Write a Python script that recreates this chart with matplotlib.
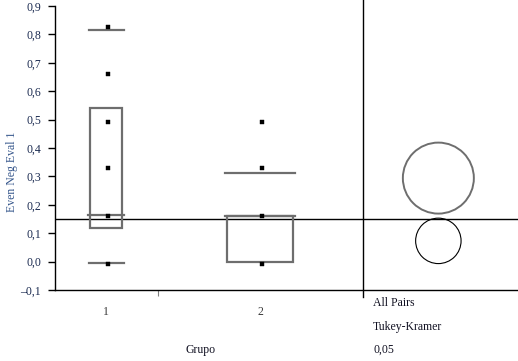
import matplotlib
matplotlib.use("Agg")
import matplotlib.pyplot as plt
from matplotlib.patches import Ellipse, Rectangle
import numpy as np

plt.rcParams['font.family'] = ['Liberation Serif', 'DejaVu Serif']

# ---- data ----
groups = ["1", "2"]
group_widths = [1.0, 2.0]          # JMP "X axis proportional" widths
g1_values = [0.827, 0.66, 0.49, 0.331, 0.159, -0.01]
g1_counts = [1, 1, 1, 2, 1, 1]
g2_values = [0.49, 0.33, 0.159, -0.01]
g2_counts = [1, 2, 1, 1]
# box stats: q1, median, q3, lower whisker, upper whisker
g1_box = dict(q1=0.118, med=0.164, q3=0.541, wlo=-0.005, whi=0.815)
g2_box = dict(q1=0.0, med=0.162, q3=0.162, wlo=None, whi=0.313)
grand_mean = 0.15
# comparison circles: centers and radii (y units)
circle_centers = [0.294, 0.073]
circle_radii = [0.125, 0.080]
circle_colors = ["#6e6e6e", "#000000"]
circle_widths = [1.4, 0.8]
yticks = [round(-0.1 + 0.1 * i, 1) for i in range(11)]
ylabel = "Even Neg Eval 1"
xlabel = "Grupo"
panel_text = ["All Pairs", "Tukey-Kramer", "0,05"]

W, H = 518, 361
fig = plt.figure(figsize=(W / 100, H / 100), dpi=100)
ax = fig.add_axes([55 / W, (H - 290) / H, (W - 55) / W, (290 - 6) / H])

bounds = np.concatenate([[0], np.cumsum(group_widths)])
centers = (bounds[:-1] + bounds[1:]) / 2
sep = bounds[-1]
xmax = sep + 1.517
ax.set_xlim(0, xmax)
ax.set_ylim(-0.1, 0.9)

box_col = "#6e6e6e"
boxes = [g1_box, g2_box]
values = [g1_values, g2_values]
counts = [g1_counts, g2_counts]
for i, (c, w) in enumerate(zip(centers, group_widths)):
    b = boxes[i]
    bw = 0.31 * w if i == 0 else 0.325 * w
    ww = 0.34 * w
    ax.add_patch(Rectangle((c - bw / 2, b["q1"]), bw, b["q3"] - b["q1"],
                           fill=False, ec=box_col, lw=1.6, zorder=3))
    ax.plot([c - bw / 2 - 0.02, c + bw / 2 + 0.02], [b["med"]] * 2, color=box_col, lw=1.6, zorder=3)
    for key in ("wlo", "whi"):
        if b[key] is not None:
            ax.plot([c - ww / 2, c + ww / 2], [b[key]] * 2, color=box_col, lw=1.6, zorder=3)
    for v, n in zip(values[i], counts[i]):
        ax.plot(c + 0.015, v, marker="s", ms=2.3 if n == 1 else 3.3, color="black",
                mec="black", mew=0.3, ls="none", zorder=4)

# grand mean line
ax.axhline(grand_mean, color="black", lw=1.0, zorder=2)

# separator line
ax.plot([sep, sep], [-0.125, 0.95], color="black", lw=1.0, clip_on=False, zorder=2)

# comparison circles (make round in pixels)
fig.canvas.draw()
x_px = ax.transData.transform([[1, 0]])[0][0] - ax.transData.transform([[0, 0]])[0][0]
y_px = ax.transData.transform([[0, 1]])[0][1] - ax.transData.transform([[0, 0]])[0][1]
cx = sep + 0.74
for yc, r, col, lw in zip(circle_centers, circle_radii, circle_colors, circle_widths):
    ax.add_patch(Ellipse((cx, yc), 2 * r * y_px / x_px, 2 * r, fill=False,
                         ec=col, lw=lw, zorder=3))

# spines
for s in ("top", "right"):
    ax.spines[s].set_visible(False)
ax.spines["left"].set_linewidth(1.0)
ax.spines["bottom"].set_linewidth(1.0)

ax.set_yticks(yticks)
ax.set_yticklabels([("\u2013" if t < 0 else "") + f"{abs(t):.1f}".replace(".", ",") for t in yticks],
                   fontsize=8.5, color="#1a2a50")
ax.tick_params(axis="y", direction="out", length=5, width=1.0, pad=5)
ax.set_xticks([bounds[1]])
ax.set_xticklabels([])
ax.tick_params(axis="x", direction="out", length=4, width=0.8, color="#808080")

for c, g in zip(centers, groups):
    ax.text(c, -0.1 - 16 / y_px, g, fontsize=8.5, ha="center", va="top", color="#3a3a3a")

yt = [303, 327, 350]
for s, yp in zip(panel_text, yt):
    fig.text(373 / W, 1 - yp / H, s, fontsize=8.5, ha="left", va="center", color="#111122")
fig.text(201 / W, 1 - 350 / H, xlabel, fontsize=8.5, ha="center", va="center", color="#111122")
fig.text(12 / W, 1 - 172 / H, ylabel, fontsize=8.5, ha="center", va="center",
         rotation=90, color="#34558b")

fig.savefig("out.png", dpi=100)
